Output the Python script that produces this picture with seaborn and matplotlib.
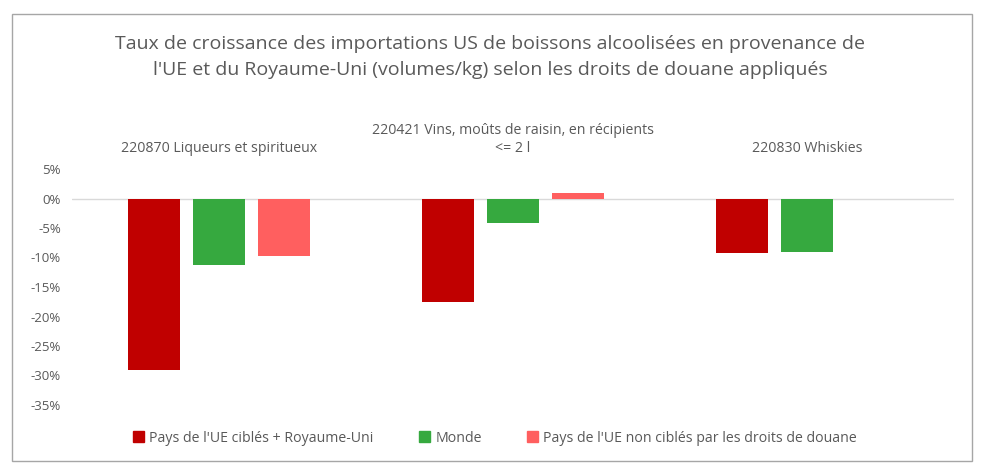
import matplotlib
matplotlib.use("Agg")
import matplotlib.pyplot as plt
import matplotlib.patches as mpatches
from matplotlib.ticker import FuncFormatter
import numpy as np
import pandas as pd
import seaborn as sns

categories = [
    "220870 Liqueurs et spiritueux",
    "220421 Vins, moûts de raisin, en récipients\n<= 2 l",
    "220830 Whiskies",
]
series_names = [
    "Pays de l'UE ciblés + Royaume-Uni",
    "Monde",
    "Pays de l'UE non ciblés par les droits de douane",
]
cibles = [-29.1, -17.5, -9.3]
monde = [-11.2, -4.1, -9.1]
non_cibles = [-9.8, 0.9, np.nan]
colors = ["#C00000", "#36A93F", "#FF5F5F"]

rows = []
for name, vals in zip(series_names, [cibles, monde, non_cibles]):
    for c, v in zip(categories, vals):
        rows.append({"cat": c, "serie": name, "val": v})
df = pd.DataFrame(rows)

sns.set_theme(style="white")
plt.rcParams["font.family"] = ["Open Sans", "DejaVu Sans"]
txt = "#595959"

fig = plt.figure(figsize=(9.92, 4.76), dpi=100)
ax = fig.add_axes([72 / 992, 1 - 405 / 476, (954 - 72) / 992, (405 - 169) / 476])

sns.barplot(data=df, x="cat", y="val", hue="serie", order=categories,
            hue_order=series_names, palette=colors, width=0.663, gap=0.2,
            errorbar=None, ax=ax, legend=False, saturation=1, linewidth=0)

ax.set_ylim(-35, 5)
ax.set_xlim(-0.5, 2.5)
ax.set_yticks(np.arange(-35, 6, 5))
ax.yaxis.set_major_formatter(FuncFormatter(lambda v, p: f"{v:.0f}%"))
ax.axhline(0, color="#D9D9D9", lw=1, zorder=0)
ax.xaxis.tick_top()
ax.tick_params(axis="x", length=0, pad=9, labelsize=10.2, labelcolor=txt)
ax.tick_params(axis="y", length=0, pad=8, labelsize=9.5, labelcolor=txt)
for lab in ax.get_xticklabels():
    lab.set_linespacing(1.35)
ax.set_xlabel("")
ax.set_ylabel("")
for s in ax.spines.values():
    s.set_visible(False)
ax.grid(False)

handles = [mpatches.Patch(color=c, label=n) for c, n in zip(colors, series_names)]
fig.legend(handles=handles, loc="center", bbox_to_anchor=(495 / 992, 1 - 438 / 476),
           ncol=3, frameon=False, fontsize=10.2, labelcolor=txt, handlelength=0.75,
           handleheight=0.75, handletextpad=0.4, columnspacing=3.2)

fig.text(490 / 992, 1 - 57 / 476,
         "Taux de croissance des importations US de boissons alcoolisées en provenance de\n"
         "l'UE et du Royaume-Uni (volumes/kg) selon les droits de douane appliqués",
         ha="center", va="center", fontsize=14, color=txt, linespacing=1.6)

border = mpatches.Rectangle((12 / 992, 1 - 461 / 476), 960 / 992, 447 / 476,
                            transform=fig.transFigure, fill=False,
                            edgecolor="#A6A6A6", lw=1)
fig.patches.append(border)

fig.savefig("out.png", dpi=100)
